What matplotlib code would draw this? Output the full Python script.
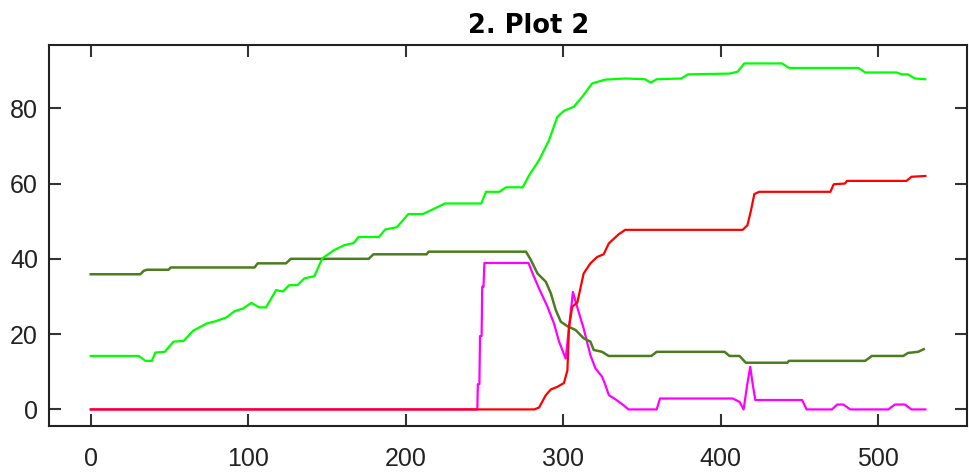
import matplotlib
matplotlib.use('Agg')
import matplotlib.pyplot as plt
import matplotlib.transforms as mtransforms

# bright green series
green_x = [0, 30.5, 34.7, 38.8, 41, 47, 52.5, 59, 65, 73.5, 79, 86, 91.4, 96.7,
           102, 107, 111.3, 117.7, 122, 126, 131.3, 135.6, 142, 147, 154.5, 160.8,
           167, 170, 183, 187, 194.4, 201.7, 211, 218.5, 225, 248, 251, 259.5,
           263.7, 274.3, 278.4, 284.7, 291, 296.3, 300.5, 306.8, 313, 318.4, 326.8,
           339.4, 352, 355.6, 359.4, 375, 379.3, 405.6, 410.8, 415, 439, 443.4,
           487.6, 491.8, 511.7, 515, 519, 523.3, 530]
green_y = [14.2, 14.2, 12.9, 12.9, 15.1, 15.3, 18, 18.2, 20.9, 22.8, 23.4, 24.4, 26.1, 26.8,
           28.3, 27.1, 27.1, 31.7, 31.3, 33, 33, 34.8, 35.4, 40.1, 42.3, 43.6,
           44.2, 45.8, 45.8, 47.8, 48.4, 51.9, 51.9, 53.4, 54.7, 54.7, 57.8, 57.8,
           59.0, 59.0, 62.2, 66.2, 71.5, 77.7, 79.3, 80.4, 83.5, 86.6, 87.6,
           87.9, 87.7, 86.8, 87.7, 87.9, 89.0, 89.2, 89.7, 91.9, 91.9, 90.7,
           90.7, 89.5, 89.5, 89.0, 89.0, 87.9, 87.7]

# dark green series
dgreen_x = [0, 31.5, 33.6, 35.7, 49.4, 50.8, 104, 106, 124, 127, 176.5, 179.5, 213.3,
            214.5, 276.4, 279.5, 283.7, 289, 292.2, 295.3, 298.5, 302.7, 307.9, 313,
            317.3, 319.4, 324.7, 328.9, 356, 359.4, 402.5, 405.6, 412, 416, 442.4,
            443.4, 491.8, 496, 516, 519, 525.4, 529]
dgreen_y = [35.9, 35.9, 36.8, 37.1, 37.1, 37.7, 37.7, 38.8, 38.8, 40.0, 40.0, 41.2, 41.2,
            41.9, 41.9, 39.7, 36.1, 33.9, 30.8, 26.4, 23.3, 22.1, 21.1, 18.9,
            18.0, 15.8, 15.3, 14.2, 14.2, 15.3, 15.3, 14.2, 14.2, 12.4, 12.4,
            12.9, 12.9, 14.2, 14.2, 15.0, 15.3, 16.0]

# red series
red_x = [0, 281.6, 284.7, 289, 292.2, 296.3, 300.5, 302.7, 303.7, 305.8, 309, 313,
         317.3, 321.6, 325.7, 329, 335.2, 339.4, 414, 417, 419.3, 421.4, 424.5,
         469.7, 471.8, 479, 480.2, 518, 521.2, 530]
red_y = [0, 0, 0.5, 3.8, 5.3, 6.0, 7.0, 10.4, 21.9, 27.3, 28.4, 36.1,
         38.8, 40.5, 41.2, 44.1, 46.5, 47.7, 47.7, 48.9, 52.9, 57.2, 57.8,
         57.8, 59.8, 60.0, 60.7, 60.7, 61.8, 62.0]

# magenta series
mag_x = [0, 245.5, 245.8, 246.8, 247.2, 248.2, 248.6, 249.4, 250, 278, 280.6, 284.7,
         290, 294.2, 297.4, 301.6, 306.2, 308, 313, 317.3, 320.5, 324.7, 326.8,
         329, 333.2, 338.4, 341.5, 359.4, 361.5, 407.7, 412, 414.6, 417, 418.8,
         420.3, 422, 451.8, 454.6, 470.7, 474, 478, 482.3, 506.5, 510.7, 517,
         521.2, 530]
mag_y = [0, 0, 6.7, 6.7, 19.5, 19.5, 32.6, 32.6, 38.9, 38.9, 36.1, 32.1,
         27.3, 22.8, 18.0, 13.5, 31.2, 28.5, 21.5, 14.4, 10.9, 8.7, 6.5,
         3.8, 2.7, 1.1, 0, 0, 2.9, 2.9, 2.0, 0, 6.9, 11.3,
         6.9, 2.5, 2.5, 0, 0, 1.3, 1.3, 0, 0, 1.3, 1.3,
         0, 0]

fig = plt.figure(figsize=(9.69, 4.73), dpi=100)
ax = fig.add_axes([0.0506, 0.0994, 0.9474, 0.8055])

ax.plot(mag_x, mag_y, color='#ff00ff', lw=1.6)
ax.plot(dgreen_x, dgreen_y, color='#4b7d1e', lw=1.8)
ax.plot(green_x, green_y, color='#00ff00', lw=1.6)
ax.plot(red_x, red_y, color='#ff0000', lw=1.6)

ax.set_xlim(-26.5, 556.5)
ax.set_ylim(-4.4, 96.8)
ax.set_xticks([0, 100, 200, 300, 400, 500])
ax.set_yticks([0, 20, 40, 60, 80])

for s in ax.spines.values():
    s.set_linewidth(1.5)
    s.set_color('#222222')

ax.tick_params(direction='in', length=8.5, width=1.5, color='#333333',
               top=True, right=True, labelsize=18)
ax.tick_params(axis='x', pad=15)
ax.tick_params(axis='y', pad=8)
for lab in ax.get_xticklabels() + ax.get_yticklabels():
    lab.set_fontfamily('Liberation Sans')
    lab.set_color('#222222')

ax.set_title('2. Plot 2', fontsize=18.5, fontweight='bold', family='DejaVu Sans',
             x=0.522, pad=8.5)

fig.savefig('out.png', dpi=100)
